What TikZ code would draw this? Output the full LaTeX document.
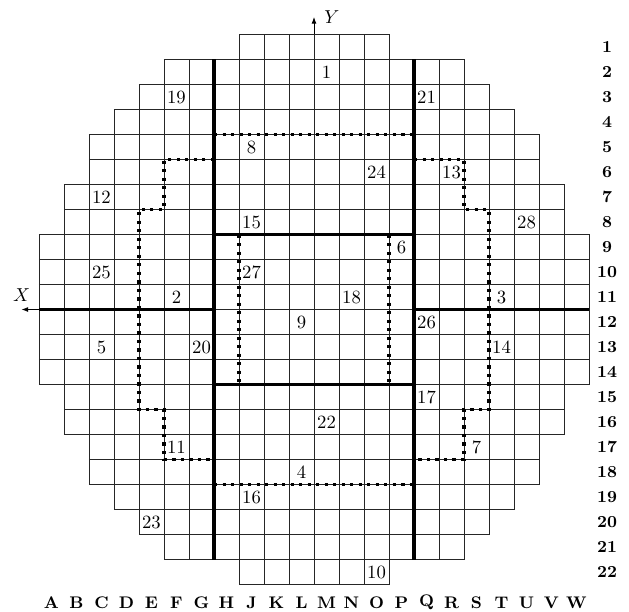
\documentclass[tikz,border=0pt]{standalone}
\usetikzlibrary{arrows.meta}

\begin{document}
\begin{tikzpicture}[x=0.47cm, y=0.47cm,
    gridline/.style={black!85, line width=0.45pt, step=0.47cm},
    thickline/.style={black, line width=1.8pt},
    dotline/.style={black, line width=1.8pt, dash pattern=on 1.8pt off 2.75pt},
    axisarrow/.style={black, line width=0.45pt, -{Latex[length=3.5pt, width=2.6pt]}},
    cellnum/.style={inner sep=0pt},
    collabel/.style={font=\small\bfseries},
    rowlabel/.style={font=\small\bfseries}]
    \useasboundingbox (-12.56,-12.06) rectangle (12.6,12.38);

    % Wafer outline: one grid block per row band (half-widths 3,6,7,8,9,10,11)
    \draw[gridline] (-3,10)   grid (3,11);    % row 1
    \draw[gridline] (-6,9)    grid (6,10);    % row 2
    \draw[gridline] (-7,8)    grid (7,9);     % row 3
    \draw[gridline] (-8,7)    grid (8,8);     % row 4
    \draw[gridline] (-9,5)    grid (9,7);     % rows 5--6
    \draw[gridline] (-10,3)   grid (10,5);    % rows 7--8
    \draw[gridline] (-11,-3)  grid (11,3);    % rows 9--14
    \draw[gridline] (-10,-5)  grid (10,-3);   % rows 15--16
    \draw[gridline] (-9,-7)   grid (9,-5);    % rows 17--18
    \draw[gridline] (-8,-8)   grid (8,-7);    % row 19
    \draw[gridline] (-7,-9)   grid (7,-8);    % row 20
    \draw[gridline] (-6,-10)  grid (6,-9);    % row 21
    \draw[gridline] (-3,-11)  grid (3,-10);   % row 22

    % Heavy partition lines
    \draw[thickline] (-11,0) -- (-4,0);
    \draw[thickline] (4,0) -- (11,0);
    \draw[thickline] (-4,10) -- (-4,-10);
    \draw[thickline] (4,10) -- (4,-10);
    \draw[thickline] (-4,3) -- (4,3);
    \draw[thickline] (-4,-3) -- (4,-3);

    % Dotted boundaries
    \draw[dotline] (-4,7) -- (4,7);
    \draw[dotline] (-4,-7) -- (4,-7);
    \draw[dotline] (-4,6) -- (-6,6) -- (-6,4) -- (-7,4) -- (-7,-4) -- (-6,-4) -- (-6,-6) -- (-4,-6);
    \draw[dotline] (4,6) -- (6,6) -- (6,4) -- (7,4) -- (7,-4) -- (6,-4) -- (6,-6) -- (4,-6);
    \draw[dotline] (-3,3) -- (-3,-3);
    \draw[dotline] (3,3) -- (3,-3);

    % Axes stubs
    \coordinate (xstart) at (-11,0);
    \coordinate (xend)   at (-11.7,0);
    \coordinate (ystart) at (0,11);
    \coordinate (yend)   at (0,11.7);
    \draw[axisarrow] (xstart) -- (xend);
    \draw[axisarrow] (ystart) -- (yend);
    \node[above=1pt] (xlabel) at (xend) {$X$};
    \node[right=2pt] (ylabel) at (yend) {$Y$};

    % Cell numbers (centred in their cells)
    \node[cellnum] (n1)  at (0.5,9.5)    {1};
    \node[cellnum] (n2)  at (-5.5,0.5)   {2};
    \node[cellnum] (n3)  at (7.5,0.5)    {3};
    \node[cellnum] (n4)  at (-0.5,-6.5)  {4};
    \node[cellnum] (n5)  at (-8.5,-1.5)  {5};
    \node[cellnum] (n6)  at (3.5,2.5)    {6};
    \node[cellnum] (n7)  at (6.5,-5.5)   {7};
    \node[cellnum] (n8)  at (-2.5,6.5)   {8};
    \node[cellnum] (n9)  at (-0.5,-0.5)  {9};
    \node[cellnum] (n10) at (2.5,-10.5)  {10};
    \node[cellnum] (n11) at (-5.5,-5.5)  {11};
    \node[cellnum] (n12) at (-8.5,4.5)   {12};
    \node[cellnum] (n13) at (5.5,5.5)    {13};
    \node[cellnum] (n14) at (7.5,-1.5)   {14};
    \node[cellnum] (n15) at (-2.5,3.5)   {15};
    \node[cellnum] (n16) at (-2.5,-7.5)  {16};
    \node[cellnum] (n17) at (4.5,-3.5)   {17};
    \node[cellnum] (n18) at (1.5,0.5)    {18};
    \node[cellnum] (n19) at (-5.5,8.5)   {19};
    \node[cellnum] (n20) at (-4.5,-1.5)  {20};
    \node[cellnum] (n21) at (4.5,8.5)    {21};
    \node[cellnum] (n22) at (0.5,-4.5)   {22};
    \node[cellnum] (n23) at (-6.5,-8.5)  {23};
    \node[cellnum] (n24) at (2.5,5.5)    {24};
    \node[cellnum] (n25) at (-8.5,1.5)   {25};
    \node[cellnum] (n26) at (4.5,-0.5)   {26};
    \node[cellnum] (n27) at (-2.5,1.5)   {27};
    \node[cellnum] (n28) at (8.5,3.5)    {28};

    % Column letters (no I) and row numbers
    \foreach \c [count=\i from 0] in {A,B,C,D,E,F,G,H,J,K,L,M,N,O,P,Q,R,S,T,U,V,W}
      \node[collabel] (col\c) at ({-10.5+\i},-11.72) {\c};
    \foreach \r in {1,...,22}
      \node[rowlabel] (row\r) at (11.72,{11.5-\r}) {\r};
\end{tikzpicture}
\end{document}
